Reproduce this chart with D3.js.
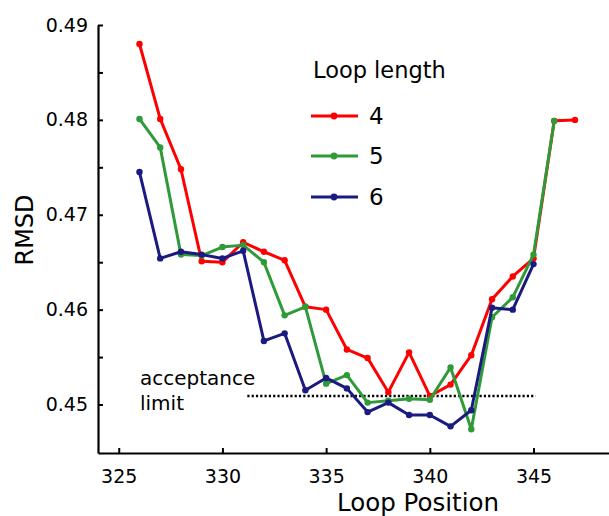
<!DOCTYPE html>
<html>
<head>
<meta charset="utf-8">
<script src="https://cdn.jsdelivr.net/npm/d3@7"></script>
<style>
  html, body { margin: 0; padding: 0; background: #fff; }
  svg { display: block; font-family: "DejaVu Sans", Verdana, sans-serif; }
</style>
</head>
<body>
<svg id="chart" width="609" height="516"></svg>
<script>
// ---- data ----
const positions4 = [326,327,328,329,330,331,332,333,334,335,336,337,338,339,340,341,342,343,344,345,346,347];
const rmsd4 = [0.4880,0.4801,0.4748,0.4651,0.4650,0.4671,0.4661,0.4652,0.4603,0.4600,0.4558,0.4549,0.4513,0.4555,0.4509,0.4521,0.4552,0.4611,0.4635,0.4654,0.4799,0.4800];
const positions5 = [326,327,328,329,330,331,332,333,334,335,336,337,338,339,340,341,342,343,344,345,346];
const rmsd5 = [0.4801,0.4771,0.4658,0.4657,0.4666,0.4668,0.4650,0.4594,0.4603,0.4522,0.4531,0.4502,0.4504,0.4506,0.4505,0.4539,0.4474,0.4592,0.4613,0.4658,0.4799];
const positions6 = [326,327,328,329,330,331,332,333,334,335,336,337,338,339,340,341,342,343,344,345];
const rmsd6 = [0.4745,0.4654,0.4661,0.4658,0.4654,0.4662,0.4567,0.4575,0.4515,0.4528,0.4517,0.4492,0.4502,0.4489,0.4489,0.4477,0.4494,0.4602,0.4600,0.4648];
const seriesNames = ["4","5","6"];
const seriesColors = ["#ff0000","#2e9a38","#1a1a80"];
const acceptanceLimit = 0.4509;
const acceptanceRange = [331.2, 345.1];
const xTicks = [325,330,335,340,345];
const yTicks = [0.45,0.455,0.46,0.465,0.47,0.475,0.48,0.485,0.49];

// ---- chart ----
const svg = d3.select("#chart");
const x = d3.scaleLinear().domain([324, 348.64]).range([98, 609]);
const y = d3.scaleLinear().domain([0.44489, 0.49]).range([453, 25]);

const series = [
  {name: seriesNames[0], color: seriesColors[0], pts: positions4.map((p,i)=>[p, rmsd4[i]])},
  {name: seriesNames[1], color: seriesColors[1], pts: positions5.map((p,i)=>[p, rmsd5[i]])},
  {name: seriesNames[2], color: seriesColors[2], pts: positions6.map((p,i)=>[p, rmsd6[i]])}
];

// axes
const xAxis = d3.axisBottom(x).tickValues(xTicks).tickSizeInner(-5).tickSizeOuter(0).tickPadding(17).tickFormat(d3.format("d"));
const gx = svg.append("g").attr("transform", "translate(0,453)").call(xAxis);
const yAxis = d3.axisLeft(y).tickValues(yTicks).tickSizeInner(-5).tickSizeOuter(0).tickPadding(10)
  .tickFormat(d => Math.abs(d*100 - Math.round(d*100)) < 1e-6 ? d3.format(".2f")(d) : "");
const gy = svg.append("g").attr("transform", "translate(98,0)").call(yAxis);
[gx, gy].forEach(g => {
  g.select(".domain").attr("stroke", "#000").attr("stroke-width", 2.2);
  g.selectAll(".tick line").attr("stroke", "#000").attr("stroke-width", 2);
  g.selectAll(".tick text").attr("fill", "#000").style("font-size", "19px").style("font-family", "DejaVu Sans, sans-serif");
});

// axis titles
svg.append("text").attr("x", 418).attr("y", 511).attr("text-anchor", "middle")
  .style("font-size", "24.5px").attr("fill", "#000").text("Loop Position");
svg.append("text").attr("transform", "translate(33,230) rotate(-90)").attr("text-anchor", "middle")
  .style("font-size", "24px").attr("fill", "#000").text("RMSD");

// acceptance limit
svg.append("line")
  .attr("x1", x(acceptanceRange[0])).attr("x2", x(acceptanceRange[1]))
  .attr("y1", y(acceptanceLimit)).attr("y2", y(acceptanceLimit))
  .attr("stroke", "#000").attr("stroke-width", 2.6).attr("stroke-dasharray", "2.2,2.1");
svg.append("text").attr("x", 140).attr("y", 385).style("font-size", "20px").attr("fill", "#000").text("acceptance");
svg.append("text").attr("x", 140).attr("y", 410).style("font-size", "20px").attr("fill", "#000").text("limit");

// series
const line = d3.line().x(d => x(d[0])).y(d => y(d[1]));
series.forEach(s => {
  const g = svg.append("g");
  g.append("path").datum(s.pts).attr("d", line).attr("fill", "none")
    .attr("stroke", s.color).attr("stroke-width", 3).attr("stroke-linejoin", "round");
  g.selectAll("circle").data(s.pts).join("circle")
    .attr("cx", d => x(d[0])).attr("cy", d => y(d[1])).attr("r", 3.2).attr("fill", s.color);
});

// legend
svg.append("text").attr("x", 313).attr("y", 78).style("font-size", "22.5px").attr("fill", "#000").text("Loop length");
const legendY = [116, 156, 197];
series.forEach((s, i) => {
  const g = svg.append("g").attr("transform", `translate(0,${legendY[i]})`);
  g.append("line").attr("x1", 311).attr("x2", 358).attr("y1", 0).attr("y2", 0)
    .attr("stroke", s.color).attr("stroke-width", 3);
  g.append("circle").attr("cx", 334).attr("cy", 0).attr("r", 3.4).attr("fill", s.color);
  g.append("text").attr("x", 369).attr("y", 0).attr("dy", "0.36em").style("font-size", "23px")
    .attr("fill", "#000").text(s.name);
});
</script>
</body>
</html>
